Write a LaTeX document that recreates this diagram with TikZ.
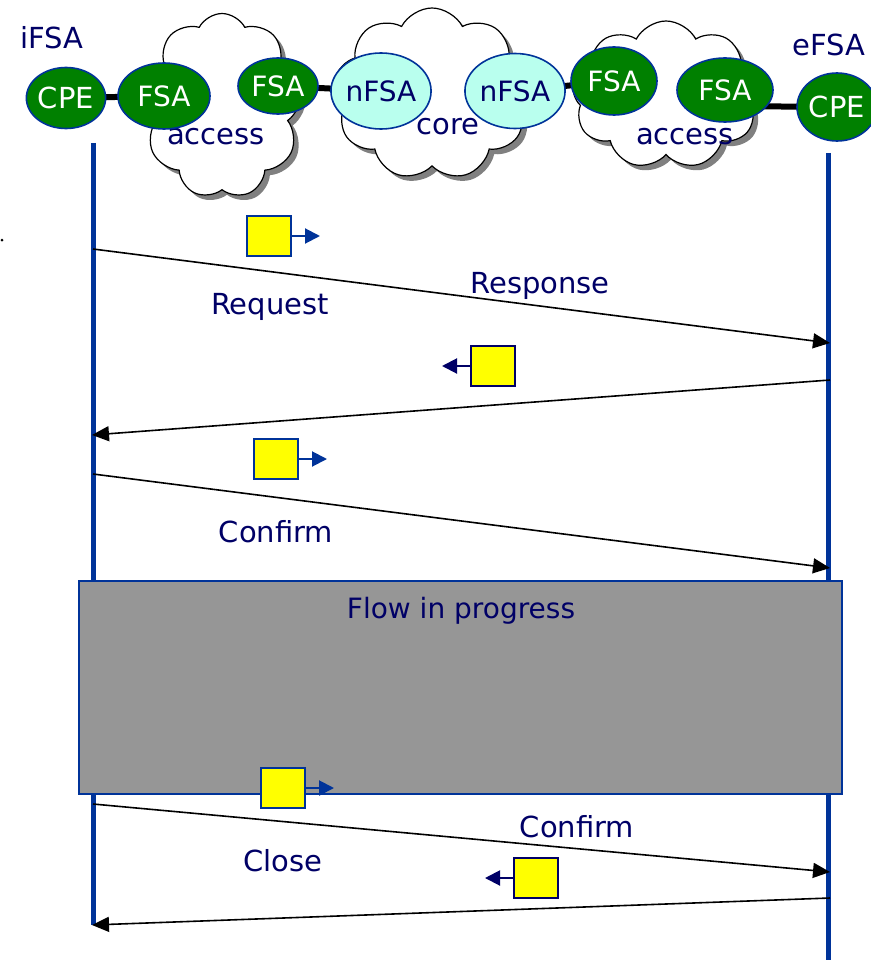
\documentclass[tikz,border=0pt]{standalone}
\usepackage{fontspec}
\setmainfont{DejaVu Sans}
\usetikzlibrary{shapes.geometric,shapes.symbols,shadows,arrows.meta}
\definecolor{lineblue}{RGB}{0,51,153}
\definecolor{navy}{RGB}{0,0,102}
\definecolor{fsagreen}{RGB}{0,128,0}
\definecolor{coreaqua}{RGB}{185,255,238}
\definecolor{flowgray}{RGB}{150,150,150}
\definecolor{pktyellow}{RGB}{255,255,0}

\begin{document}
\begin{tikzpicture}[x=1pt,y=-1pt,
  lbl/.style={text=navy, font=\fontsize{29}{31}\selectfont, inner sep=0pt},
  agent/.style={ellipse, draw=lineblue, line width=1.6pt, inner sep=0pt,
    font=\fontsize{28}{30}\selectfont},
  edgeagent/.style={agent, fill=fsagreen, text=white},
  coreagent/.style={agent, fill=coreaqua, text=navy},
  netcloud/.style={cloud, cloud puffs=9, cloud puff arc=125, cloud ignores aspect,
    draw=black, line width=1.2pt, fill=white, inner sep=0pt,
    drop shadow={shadow xshift=5pt, shadow yshift=-5pt, fill=black!50, opacity=1}},
  link/.style={line width=6pt, black},
  life/.style={line width=5pt, lineblue},
  msg/.style={line width=1.6pt, black, -{Triangle[length=17pt,width=15pt]}},
  pkt/.style={rectangle, draw=lineblue, line width=1.4pt, fill=pktyellow,
    minimum width=44pt, minimum height=40pt, inner sep=0pt},
  pktback/.style={pkt, draw=navy},
  pktarrow/.style={line width=2pt, lineblue, -{Triangle[length=15pt,width=15pt]}},
  pktbackarrow/.style={pktarrow, navy},
  flowbox/.style={rectangle, draw=lineblue, line width=1.4pt, fill=flowgray,
    minimum width=763pt, minimum height=213pt, inner sep=0pt}
]
\useasboundingbox (0,0) rectangle (870,960);

% lifelines
\coordinate (ltop) at (93,143);
\coordinate (lbot) at (93,925);
\coordinate (rtop) at (828,153);
\coordinate (rbot) at (828,962);
\draw[life] (ltop) -- (lbot);
\draw[life] (rtop) -- (rbot);

% stray mark at the left margin
\fill (2,240) circle (1.5pt);

% end-point labels
\node[lbl] (ifsa) at (52,38) {iFSA};
\node[lbl] (efsa) at (829,45) {eFSA};

% anchor points of the path, used for the thick links
\coordinate (pcpeL) at (66,98);
\coordinate (pfsa1) at (164,96);
\coordinate (pfsa2) at (278,86);
\coordinate (pnfsa1) at (381,91);
\coordinate (pnfsa2) at (515,91);
\coordinate (pfsa3) at (614,81);
\coordinate (pfsa4) at (725,106);
\coordinate (pcpeR) at (837,107);
\draw[link] (pcpeL) -- (pfsa1);
\draw[link] (pfsa2) -- (pnfsa1);
\draw[link] (pnfsa2) -- (pfsa3);
\draw[link] (pfsa4) -- (pcpeR);

% network clouds
\node[netcloud, minimum width=160pt, minimum height=185pt] (accL) at (222,106) {};
\node[netcloud, minimum width=197pt, minimum height=172pt] (core) at (432,94) {};
\node[netcloud, minimum width=188pt, minimum height=148pt] (accR) at (666,95) {};
\node[lbl] (accLtxt) at (216,137) {access};
\node[lbl] (coretxt) at (448,127) {core};
\node[lbl] (accRtxt) at (685,137) {access};

% agents along the path
\node[edgeagent, minimum width=78pt, minimum height=61pt, font=\fontsize{29}{31}\selectfont] (cpeL) at (pcpeL) {CPE};
\node[edgeagent, minimum width=92pt, minimum height=66pt] (fsa1) at (pfsa1) {FSA};
\node[edgeagent, minimum width=80pt, minimum height=56pt] (fsa2) at (pfsa2) {FSA};
\node[coreagent, minimum width=92pt, minimum height=76pt] (nfsa1) at (pnfsa1) {nFSA};
\node[coreagent, minimum width=86pt, minimum height=75pt] (nfsa2) at (pnfsa2) {nFSA};
\node[edgeagent, minimum width=86pt, minimum height=68pt] (fsa3) at (pfsa3) {FSA};
\node[edgeagent, minimum width=96pt, minimum height=64pt] (fsa4) at (725,90) {FSA};
\node[edgeagent, minimum width=80pt, minimum height=68pt, font=\fontsize{29}{31}\selectfont] (cpeR) at (pcpeR) {CPE};

% message end points on the lifelines
\coordinate (a1) at (93,249);  \coordinate (b1) at (830,343);
\coordinate (b2) at (830,380); \coordinate (a2) at (92,435);
\coordinate (a3) at (93,474);  \coordinate (b3) at (830,568);
\coordinate (a4) at (93,804);  \coordinate (b4) at (830,872);
\coordinate (b5) at (830,898); \coordinate (a5) at (92,925);

% request
\draw[msg] (a1) -- (b1);
\node[pkt] (p1) at (269,236) {};
\coordinate (p1e) at (320,236);
\draw[pktarrow] (p1.east) -- (p1e);
\node[lbl] (reqtxt) at (270,307) {Request};

% response
\node[lbl] (resptxt) at (540,286) {Response};
\draw[msg] (b2) -- (a2);
\node[pktback] (p2) at (493,366) {};
\coordinate (p2e) at (442,366);
\draw[pktbackarrow] (p2.west) -- (p2e);

% confirm
\draw[msg] (a3) -- (b3);
\node[pkt] (p3) at (276,459) {};
\coordinate (p3e) at (327,459);
\draw[pktarrow] (p3.east) -- (p3e);
\node[lbl] (conftxt) at (276,532) {Confirm};

% data phase
\node[flowbox] (flow) at (460.5,687.5) {};
\node[lbl, font=\fontsize{28}{30}\selectfont] (flowtxt) at (461,611) {Flow in progress};

% close
\draw[msg] (a4) -- (b4);
\node[pkt] (p4) at (283,788) {};
\coordinate (p4e) at (334,788);
\draw[pktarrow] (p4.east) -- (p4e);
\node[lbl] (closetxt) at (283,861) {Close};

% close confirm
\node[lbl] (conf2txt) at (577,827) {Confirm};
\draw[msg] (b5) -- (a5);
\node[pktback] (p5) at (536,878) {};
\coordinate (p5e) at (485,878);
\draw[pktbackarrow] (p5.west) -- (p5e);
\end{tikzpicture}
\end{document}
